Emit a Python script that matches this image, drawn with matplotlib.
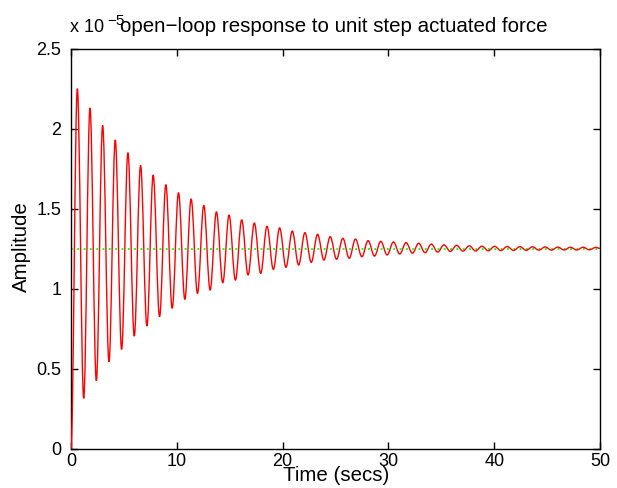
import numpy as np
import matplotlib
matplotlib.use("Agg")
import matplotlib.pyplot as plt
from matplotlib.path import Path
from matplotlib.patches import PathPatch

# Step response of the open-loop system (amplitude in units of 1e-5)
period = 1.195
first_peak_time = 0.6
first_trough_time = 1.2

peak_values = [2.25, 2.13, 2.02, 1.93, 1.85, 1.77, 1.71, 1.65, 1.60, 1.56,
               1.52, 1.48, 1.46, 1.43, 1.41, 1.39, 1.38, 1.36, 1.35, 1.34,
               1.325, 1.315, 1.31, 1.30, 1.296, 1.292, 1.288, 1.284, 1.279, 1.274,
               1.271, 1.268, 1.266, 1.265, 1.264, 1.263, 1.262, 1.261, 1.260, 1.259,
               1.259, 1.258]
trough_values = [0.315, 0.425, 0.544, 0.621, 0.704, 0.767, 0.825, 0.878, 0.934, 0.971,
                 0.992, 1.0375, 1.054, 1.086, 1.096, 1.121, 1.134, 1.148, 1.165, 1.179,
                 1.184, 1.190, 1.200, 1.204, 1.211, 1.217, 1.222, 1.225, 1.229, 1.233,
                 1.235, 1.236, 1.237, 1.238, 1.239, 1.240, 1.241, 1.241, 1.242, 1.242,
                 1.243]
start_value = 0.0
end_value = 1.252
steady_state = 1.25
t_end = 50

x_ticks = [0, 10, 20, 30, 40, 50]
y_ticks = [0, 0.5, 1, 1.5, 2, 2.5]
y_tick_labels = ["0", "0.5", "1", "1.5", "2", "2.5"]

peak_t = first_peak_time + period * np.arange(len(peak_values))
trough_t = first_trough_time + period * np.arange(len(trough_values))

t = np.concatenate([[0.0], peak_t, trough_t, [t_end]])
y = np.concatenate([[start_value], peak_values, trough_values, [end_value]])
order = np.argsort(t)
t, y = t[order], y[order]

# smooth half-cycles: cubic segments with flat tangents at each extremum
verts = [(t[0], y[0])]
codes = [Path.MOVETO]
k = 0.3642
for i in range(len(t) - 1):
    dt = t[i + 1] - t[i]
    verts += [(t[i] + k * dt, y[i]), (t[i + 1] - k * dt, y[i + 1]), (t[i + 1], y[i + 1])]
    codes += [Path.CURVE4] * 3
response_path = Path(verts, codes)

font = "Liberation Sans"
fs_tick = 13
fs_label = 14.8

W, H = 617, 488
fig = plt.figure(figsize=(W / 100, H / 100), dpi=100)
ax_l, ax_r, ax_t, ax_b = 71, 600, 48.7, 448.7
ax = fig.add_axes([ax_l / W, 1 - ax_b / H, (ax_r - ax_l) / W, (ax_b - ax_t) / H])

ax.plot([0, t_end], [steady_state, steady_state], color=(0, 1, 0),
        linestyle=(0, (1, 2.5)), linewidth=1.3, zorder=2)
ax.add_patch(PathPatch(response_path, facecolor="none", edgecolor=(1, 0, 0),
                       linewidth=1.0, zorder=3))

ax.set_xlim(0, t_end)
ax.set_ylim(0, 2.5)
ax.set_xticks(x_ticks)
ax.set_xticklabels([str(v) for v in x_ticks], fontname=font, fontsize=fs_tick)
ax.set_yticks(y_ticks)
ax.set_yticklabels(y_tick_labels, fontname=font, fontsize=fs_tick)
ax.tick_params(direction="in", length=5, width=1, top=True, right=True)
ax.tick_params(axis="x", pad=3)
ax.tick_params(axis="y", pad=7)
for s in ax.spines.values():
    s.set_linewidth(1.0)

fig.text(336 / W, 1 - 481 / H, "Time (secs)", fontname=font,
         fontsize=fs_label, ha="center", va="baseline")
fig.text(21 / W, 1 - 246.5 / H, "Amplitude", fontname=font, fontsize=fs_label,
         rotation=90, ha="center", va="center")
fig.text(334 / W, 1 - 32 / H, "open\u2212loop response to unit step actuated force",
         fontname=font, fontsize=fs_label, ha="center", va="baseline")

# exponent marker for the y axis
fig.text(70 / W, 1 - 32 / H, "x 10", fontname=font, fontsize=fs_tick,
         ha="left", va="baseline")
fig.text(107 / W, 1 - 25 / H, "\u22125", fontname=font, fontsize=11,
         ha="left", va="baseline")

fig.savefig("out.png", dpi=100)
